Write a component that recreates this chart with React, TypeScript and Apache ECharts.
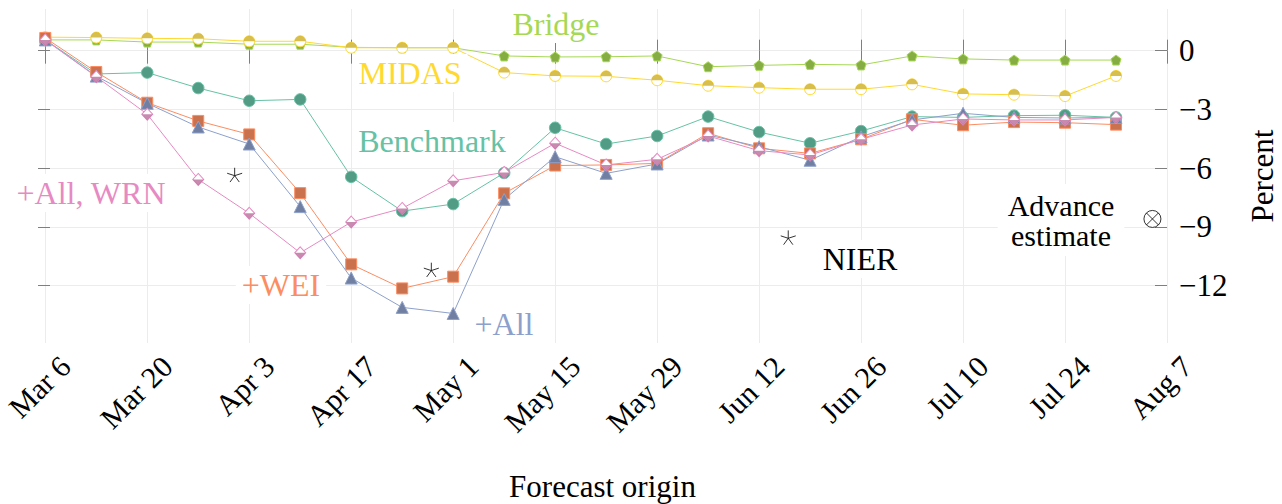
import React, { useEffect, useRef } from 'react';
import * as echarts from 'echarts';

// ---- data ----
const originDates = [
  '2020-03-06', '2020-03-13', '2020-03-20', '2020-03-27', '2020-04-03', '2020-04-10',
  '2020-04-17', '2020-04-24', '2020-05-01', '2020-05-08', '2020-05-15', '2020-05-22',
  '2020-05-29', '2020-06-05', '2020-06-12', '2020-06-19', '2020-06-26', '2020-07-03',
  '2020-07-10', '2020-07-17', '2020-07-24', '2020-07-31',
];
const bridge = [0.55, 0.55, 0.44, 0.44, 0.33, 0.33, 0.17, 0.15, 0.15, -0.27, -0.32, -0.31, -0.27, -0.82, -0.75, -0.7, -0.73, -0.27, -0.42, -0.48, -0.48, -0.48];
const midas = [0.69, 0.67, 0.63, 0.61, 0.48, 0.48, 0.15, 0.15, 0.15, -1.12, -1.29, -1.31, -1.51, -1.79, -1.89, -1.97, -1.97, -1.72, -2.21, -2.25, -2.32, -1.29];
const benchmark = [0.55, -1.19, -1.12, -1.91, -2.56, -2.49, -6.45, -8.2, -7.84, -6.25, -3.94, -4.77, -4.36, -3.37, -4.16, -4.73, -4.11, -3.37, -3.41, -3.32, -3.3, -3.41];
const wei = [0.65, -1.09, -2.66, -3.59, -4.28, -7.28, -10.92, -12.15, -11.55, -7.29, -5.87, -5.84, -5.76, -4.22, -4.99, -5.25, -4.53, -3.51, -3.81, -3.65, -3.68, -3.78];
const allInd = [0.55, -1.3, -2.69, -3.9, -4.77, -7.97, -11.62, -13.12, -13.43, -7.6, -5.42, -6.27, -5.79, -4.31, -4.91, -5.6, -4.4, -3.54, -3.2, -3.41, -3.44, -3.41];
const allWrn = [0.55, -1.33, -3.25, -6.58, -8.31, -10.33, -8.76, -8.06, -6.65, -6.22, -4.73, -5.84, -5.55, -4.36, -5.11, -5.33, -4.53, -3.8, -3.49, -3.54, -3.54, -3.41];
const nierDates = ['2020-04-01', '2020-04-28', '2020-06-16'];
const nierValues = [-6.35, -11.2, -9.55];
const advanceDates = ['2020-08-05'];
const advanceValues = [-8.6];
const xTickDates = [
  '2020-03-06', '2020-03-20', '2020-04-03', '2020-04-17', '2020-05-01', '2020-05-15',
  '2020-05-29', '2020-06-12', '2020-06-26', '2020-07-10', '2020-07-24', '2020-08-07',
];
const yTicks = [0, -3, -6, -9, -12];
const xRange = ['2020-03-05', '2020-08-07'];
const yRange = [-14.94, 2.13];

// ---- helpers ----
const FONT = '"Liberation Serif", "Times New Roman", serif';
const MONTHS = ['Jan', 'Feb', 'Mar', 'Apr', 'May', 'Jun', 'Jul', 'Aug', 'Sep', 'Oct', 'Nov', 'Dec'];
const ts = (s: string) => {
  const [y, m, d] = s.split('-').map(Number);
  return Date.UTC(y, m - 1, d);
};
const fmtDate = (v: number) => {
  const d = new Date(v);
  return MONTHS[d.getUTCMonth()] + ' ' + d.getUTCDate();
};
const fmtNum = (v: number) => (v < 0 ? '\u2212' + Math.abs(v) : String(v));
const pairs = (dates: string[], vals: number[]) => dates.map((d, i) => [ts(d), vals[i]]);

const COLORS = {
  benchmark: '#66c2a5', wei: '#fc8d62', all: '#8da0cb', wrn: '#e78ac3', bridge: '#a6d854', midas: '#ffd92f',
};
const DARK = {
  benchmark: '#529b84', wei: '#ca714e', all: '#7180a2', wrn: '#b96e9c', bridge: '#85ad43', midas: '#ccae26',
};

const PENTAGON = 'path://M10 0 L19.51 6.91 L15.88 18.09 L4.12 18.09 L0.49 6.91 Z';
const TOP_HALF_DISK = 'path://M0 10 A10 10 0 0 1 20 10 Z';
const BOTTOM_HALF_DIAMOND = 'path://M0 0 L20 0 L10 10 Z';
const STAR = 'path://M0 -10 L0 0 M9.51 -3.09 L0 0 M5.88 8.09 L0 0 M-5.88 8.09 L0 0 M-9.51 -3.09 L0 0';
const OTIMES = 'path://M10 0 A10 10 0 1 1 -10 0 A10 10 0 1 1 10 0 Z M-7.07 -7.07 L7.07 7.07 M7.07 -7.07 L-7.07 7.07';

function lineSeries(name: string, vals: number[], color: string, fill: string, symbol: string, size: any, z = 2) {
  return {
    type: 'line',
    name,
    z,
    data: pairs(originDates, vals),
    symbol,
    symbolSize: size,
    showAllSymbol: true,
    lineStyle: { color, width: 1 },
    itemStyle: { color: fill, borderColor: color, borderWidth: 1 },
    emphasis: { disabled: true },
  };
}

function halfSeries(name: string, vals: number[], color: string, symbol: string, size: any, offset: any, z: number) {
  return {
    type: 'scatter',
    name,
    z,
    data: pairs(originDates, vals),
    symbol,
    symbolSize: size,
    symbolOffset: offset,
    itemStyle: { color, borderWidth: 0 },
    emphasis: { disabled: true },
  };
}

function label(text: string, x: number, y: number, color: string, padding: any = [2, 6], fontSize = 32, lineHeight = 34) {
  return {
    type: 'text',
    x,
    y,
    z: 100,
    style: {
      text,
      fill: color,
      fontSize,
      fontFamily: FONT,
      align: 'center',
      verticalAlign: 'middle',
      backgroundColor: '#ffffff',
      padding,
      lineHeight,
    },
  };
}

export default function App() {
  const ref = useRef<HTMLDivElement>(null);

  useEffect(() => {
    document.body.style.margin = '0';
    if (!ref.current) return;
    const chart = echarts.init(ref.current, null, { renderer: 'svg' });
    const tickTs = xTickDates.map(ts);
    const tickStyle = { color: '#7f7f7f', width: 1 };

    const option: any = {
      animation: false,
      backgroundColor: '#ffffff',
      grid: { left: 38, right: 115, top: 9, bottom: 161, containLabel: false, outerBoundsMode: 'none' },
      xAxis: [
        {
          type: 'value',
          position: 'bottom',
          min: ts(xRange[0]),
          max: ts(xRange[1]),
          name: 'Forecast origin',
          nameLocation: 'middle',
          nameGap: 128,
          nameTextStyle: { fontFamily: FONT, fontSize: 31, color: '#000' },
          axisLine: { show: false },
          axisTick: { show: true, inside: true, length: 11, customValues: tickTs, lineStyle: tickStyle },
          axisLabel: {
            customValues: tickTs,
            formatter: (v: number) => fmtDate(v),
            rotate: 45,
            margin: 38,
            padding: [0, -28, 0, 0],
            fontFamily: FONT,
            fontSize: 30,
            color: '#000',
            hideOverlap: false,
          },
          splitLine: { show: true, lineStyle: { color: '#ececec', width: 1 } },
        },
        {
          type: 'value',
          position: 'top',
          min: ts(xRange[0]),
          max: ts(xRange[1]),
          axisLine: { show: false },
          axisTick: { show: true, inside: true, length: 13, customValues: tickTs, lineStyle: tickStyle },
          axisLabel: { show: false },
          splitLine: { show: false },
        },
      ],
      yAxis: [
        {
          type: 'value',
          position: 'right',
          min: yRange[0],
          max: yRange[1],
          name: 'Percent',
          nameLocation: 'middle',
          nameRotate: 90,
          nameGap: 80,
          nameTextStyle: { fontFamily: FONT, fontSize: 31, color: '#000' },
          axisLine: { show: false },
          axisTick: { show: true, inside: true, length: 12, customValues: yTicks, lineStyle: tickStyle },
          axisLabel: {
            customValues: yTicks,
            formatter: (v: number) => fmtNum(v),
            margin: 12,
            fontFamily: FONT,
            fontSize: 31,
            color: '#000',
          },
          splitLine: { show: true, lineStyle: { color: '#ececec', width: 1 } },
        },
        {
          type: 'value',
          position: 'left',
          min: yRange[0],
          max: yRange[1],
          axisLine: { show: false },
          axisTick: { show: true, inside: true, length: 12, customValues: yTicks, lineStyle: tickStyle },
          axisLabel: { show: false },
          splitLine: { show: false },
        },
      ],
      series: [
        lineSeries('Bridge', bridge, COLORS.bridge, DARK.bridge, PENTAGON, 10),
        lineSeries('MIDAS', midas, COLORS.midas, '#ffffff', 'circle', 11),
        halfSeries('MIDAS fill', midas, DARK.midas, TOP_HALF_DISK, [11, 5.5], [0, '-50%'], 3),
        lineSeries('Benchmark', benchmark, COLORS.benchmark, DARK.benchmark, 'circle', 11.5, 4),
        lineSeries('+WEI', wei, COLORS.wei, DARK.wei, 'rect', 11, 4),
        lineSeries('+All', allInd, COLORS.all, DARK.all, 'triangle', 12, 4),
        lineSeries('+All, WRN', allWrn, COLORS.wrn, '#ffffff', 'diamond', [11, 12], 4),
        halfSeries('+All, WRN fill', allWrn, DARK.wrn, BOTTOM_HALF_DIAMOND, [11, 6], [0, '50%'], 5),
        {
          type: 'scatter',
          name: 'NIER',
          z: 6,
          data: pairs(nierDates, nierValues),
          symbol: STAR,
          symbolSize: 15,
          symbolKeepAspect: true,
          itemStyle: { color: 'rgba(0,0,0,0)', borderColor: '#000', borderWidth: 1 },
          emphasis: { disabled: true },
        },
        {
          type: 'scatter',
          name: 'Advance estimate',
          z: 6,
          data: pairs(advanceDates, advanceValues),
          symbol: OTIMES,
          symbolSize: 17,
          itemStyle: { color: '#ffffff', borderColor: '#000', borderWidth: 1 },
          emphasis: { disabled: true },
        },
      ],
      graphic: [
        label('Bridge', 556, 24, COLORS.bridge),
        label('MIDAS', 410, 73, COLORS.midas),
        label('Benchmark', 432, 141, COLORS.benchmark),
        label('+All, WRN', 91, 193, COLORS.wrn),
        label('+WEI', 281, 285, COLORS.wei),
        label('+All', 504, 324, COLORS.all),
        label('NIER', 860, 259, '#000'),
        label('Advance\nestimate', 1061, 220, '#000', [6, 10], 30, 30),
      ],
    };

    chart.setOption(option);
    return () => chart.dispose();
  }, []);

  return <div ref={ref} style={{ width: 1282, height: 504 }} />;
}
